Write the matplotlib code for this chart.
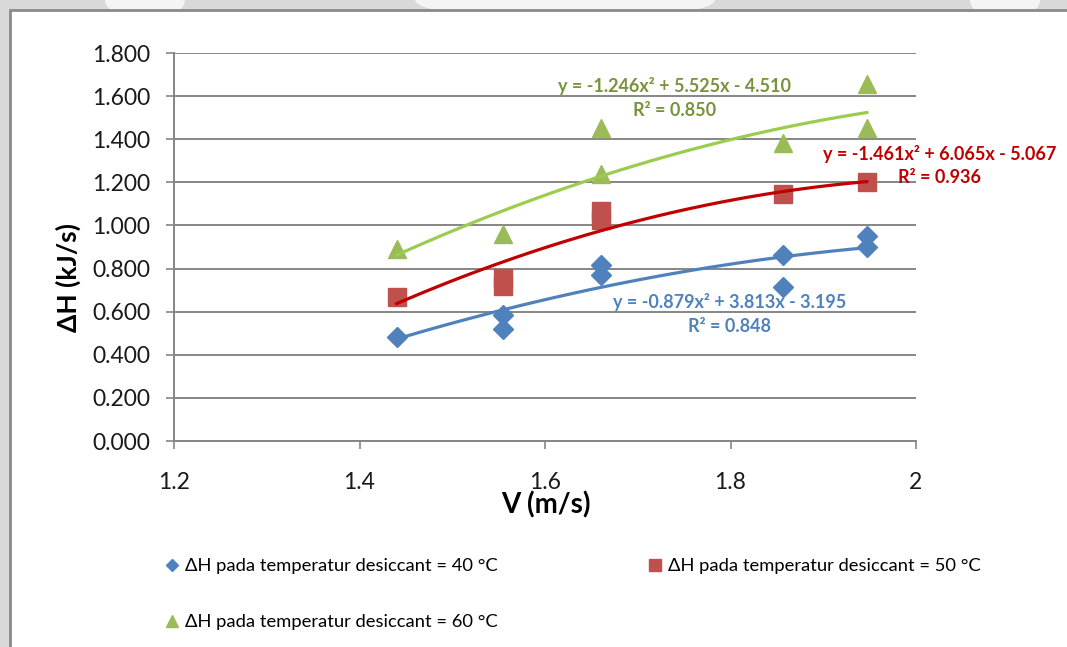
import numpy as np
import matplotlib
matplotlib.use("Agg")
import matplotlib.pyplot as plt
from matplotlib.patches import Rectangle, Ellipse
from matplotlib.lines import Line2D
from matplotlib.ticker import FuncFormatter, MultipleLocator

plt.rcParams['font.family'] = ['Lato', 'DejaVu Sans']

# data (V in m/s, dH in kJ/s)
x40 = [1.44, 1.555, 1.555, 1.66, 1.66, 1.857, 1.857, 1.947, 1.947]
y40 = [0.482, 0.584, 0.520, 0.816, 0.770, 0.863, 0.714, 0.951, 0.900]
x50 = [1.44, 1.555, 1.555, 1.66, 1.66, 1.857, 1.947]
y50 = [0.668, 0.757, 0.719, 1.067, 1.025, 1.145, 1.201]
x60 = [1.44, 1.555, 1.66, 1.66, 1.857, 1.947, 1.947]
y60 = [0.890, 0.960, 1.452, 1.238, 1.382, 1.656, 1.452]

# polynomial trendline coefficients (a, b, c) and R^2 as printed on the chart
coef40 = [-0.879, 3.813, -3.195]
coef50 = [-1.461, 6.065, -5.067]
coef60 = [-1.246, 5.525, -4.510]
r2 = [0.848, 0.936, 0.850]

labels = ['ΔH pada temperatur desiccant = 40 °C',
          'ΔH pada temperatur desiccant = 50 °C',
          'ΔH pada temperatur desiccant = 60 °C']

W, H = 1067, 647
fig = plt.figure(figsize=(W / 100, H / 100), dpi=100, facecolor='#d9d9d9')

# faint watermark blobs above the chart frame
for cx, w in [(145, 80), (565, 300), (1005, 70)]:
    fig.patches.append(Ellipse((cx / W, 1.0), w / W, 40 / H, transform=fig.transFigure,
                               facecolor='#f4f4f4', edgecolor='none', zorder=-3))
# chart frame
fig.patches.append(Rectangle((9.5 / W, -0.1), 1.2, 1.1 - 9.5 / H, transform=fig.transFigure,
                             facecolor='white', edgecolor='#8a8a8a', linewidth=2, zorder=-2))

ax = fig.add_axes([174 / W, 1 - 441 / H, (916 - 174) / W, (441 - 53) / H])
ax.set_facecolor('none')

series = [
    (x40, y40, coef40, 'D', 10.5, '#4F81BD', '#4F81BD'),
    (x50, y50, coef50, 's', 13.5, '#C0504D', '#C00000'),
    (x60, y60, coef60, '^', 13.5, '#9BBB59', '#9ACD4F'),
]
for xs, ys, cf, mk, ms, mc, lc in series:
    ax.plot(xs, ys, linestyle='none', marker=mk, ms=ms, color=mc, zorder=3)
    xx = np.linspace(min(xs), max(xs), 100)
    ax.plot(xx, np.polyval(cf, xx), color=lc, lw=2.3, zorder=4)

# trendline equations
eq_pos = [(730, 302, 326), (940, 154, 178), (675, 86, 110)]
text_col = ['#4F81BD', '#C00000', '#77933C']
for cf, r, (px, py1, py2), c in zip([coef40, coef50, coef60], r2, eq_pos, text_col):
    eq = 'y = %.3fx² + %.3fx - %.3f' % (cf[0], cf[1], -cf[2])
    fig.text(px / W, 1 - py1 / H, eq, ha='center', va='center', color=c,
             fontsize=13, fontweight='bold', zorder=5)
    fig.text(px / W, 1 - py2 / H, 'R² = %.3f' % r, ha='center', va='center', color=c,
             fontsize=13, fontweight='bold', zorder=5)

ax.set_xlim(1.2, 2.0)
ax.set_ylim(0, 1.8)
ax.xaxis.set_major_locator(MultipleLocator(0.2))
ax.yaxis.set_major_locator(MultipleLocator(0.2))
ax.xaxis.set_major_formatter(FuncFormatter(lambda v, p: '%g' % round(v, 1)))
ax.yaxis.set_major_formatter(FuncFormatter(lambda v, p: '%.3f' % v))
ax.grid(axis='y', color='#868686', lw=1.4)
ax.set_axisbelow(True)
for s in ['top', 'right']:
    ax.spines[s].set_visible(False)
for s in ['left', 'bottom']:
    ax.spines[s].set_color('#868686')
    ax.spines[s].set_linewidth(1.4)
ax.tick_params(axis='both', direction='out', length=6, width=1.2, color='#868686',
               labelsize=16.5, labelcolor='#1a1a1a')
ax.tick_params(axis='y', pad=11)
ax.tick_params(axis='x', pad=16)

fig.text(68 / W, 1 - 277 / H, 'ΔH (kJ/s)', rotation=90, ha='center', va='center',
         fontsize=19, fontweight='bold')
fig.text(546 / W, 1 - 505 / H, 'V (m/s)', ha='center', va='center',
         fontsize=20, fontweight='bold')

# legend
leg_handles = [
    Line2D([], [], ls='none', marker='D', ms=6, color='#4F81BD'),
    Line2D([], [], ls='none', marker='^', ms=9, color='#9BBB59'),
    Line2D([], [], ls='none', marker='s', ms=9, color='#C0504D'),
]
fig.legend(leg_handles, [labels[0], labels[2], labels[1]], ncol=2,
           loc='upper left', bbox_to_anchor=(165 / W, 1 - 558 / H),
           frameon=False, fontsize=13.2, handlelength=0.8, handletextpad=0.3,
           borderpad=0, borderaxespad=0, labelspacing=2.2, columnspacing=8.15)

fig.savefig('out.png', dpi=100, facecolor=fig.get_facecolor())
